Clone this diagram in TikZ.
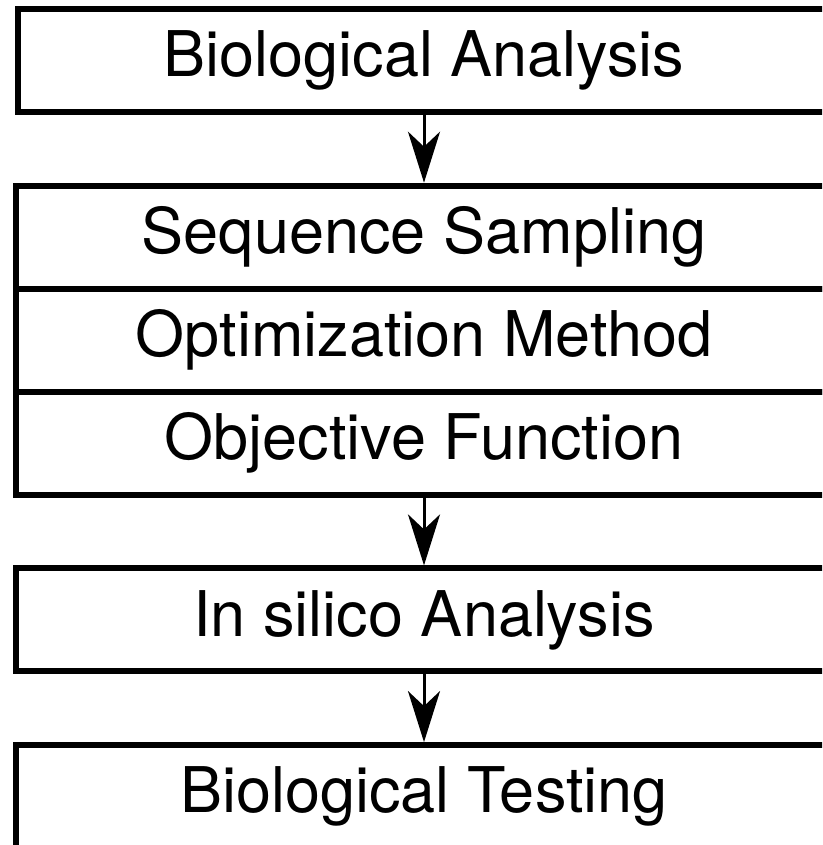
\documentclass[tikz,border=0pt]{standalone}
\usepackage{fontspec}
\setmainfont{TeX Gyre Heros}
\usetikzlibrary{arrows.meta, positioning}

\begin{document}
\begin{tikzpicture}[
    x=1pt, y=-1pt,
    stage/.style={draw=black, line width=6pt, minimum width=817pt, minimum height=103pt,
                  inner sep=0pt, font=\fontsize{63}{75}\selectfont},
    flow/.style={-{Stealth[length=51pt, width=32pt, inset=15pt]}, line width=3pt, draw=black},
    node distance=67.7pt,
  ]
  % page is 822 x 845; boxes run off the right and bottom edges
  \useasboundingbox (0,0) rectangle (822,845);
  \clip (0,0) rectangle (822,845);

  \node[stage, minimum width=813pt] (bio) at (424,60.5) {Biological Analysis};

  % three stacked rows sharing their borders
  \node[stage, below=of bio]      (samp) {Sequence Sampling};
  \node[stage, below=-6pt of samp] (opt)  {Optimization Method};
  \node[stage, below=-6pt of opt]  (obj)  {Objective Function};

  \node[stage, below=of obj]    (silico) {In silico Analysis};
  \node[stage, below=of silico] (test)   {Biological Testing};

  \draw[flow] (bio) -- (samp);
  \draw[flow] (obj) -- (silico);
  \draw[flow] (silico) -- (test);
\end{tikzpicture}
\end{document}
